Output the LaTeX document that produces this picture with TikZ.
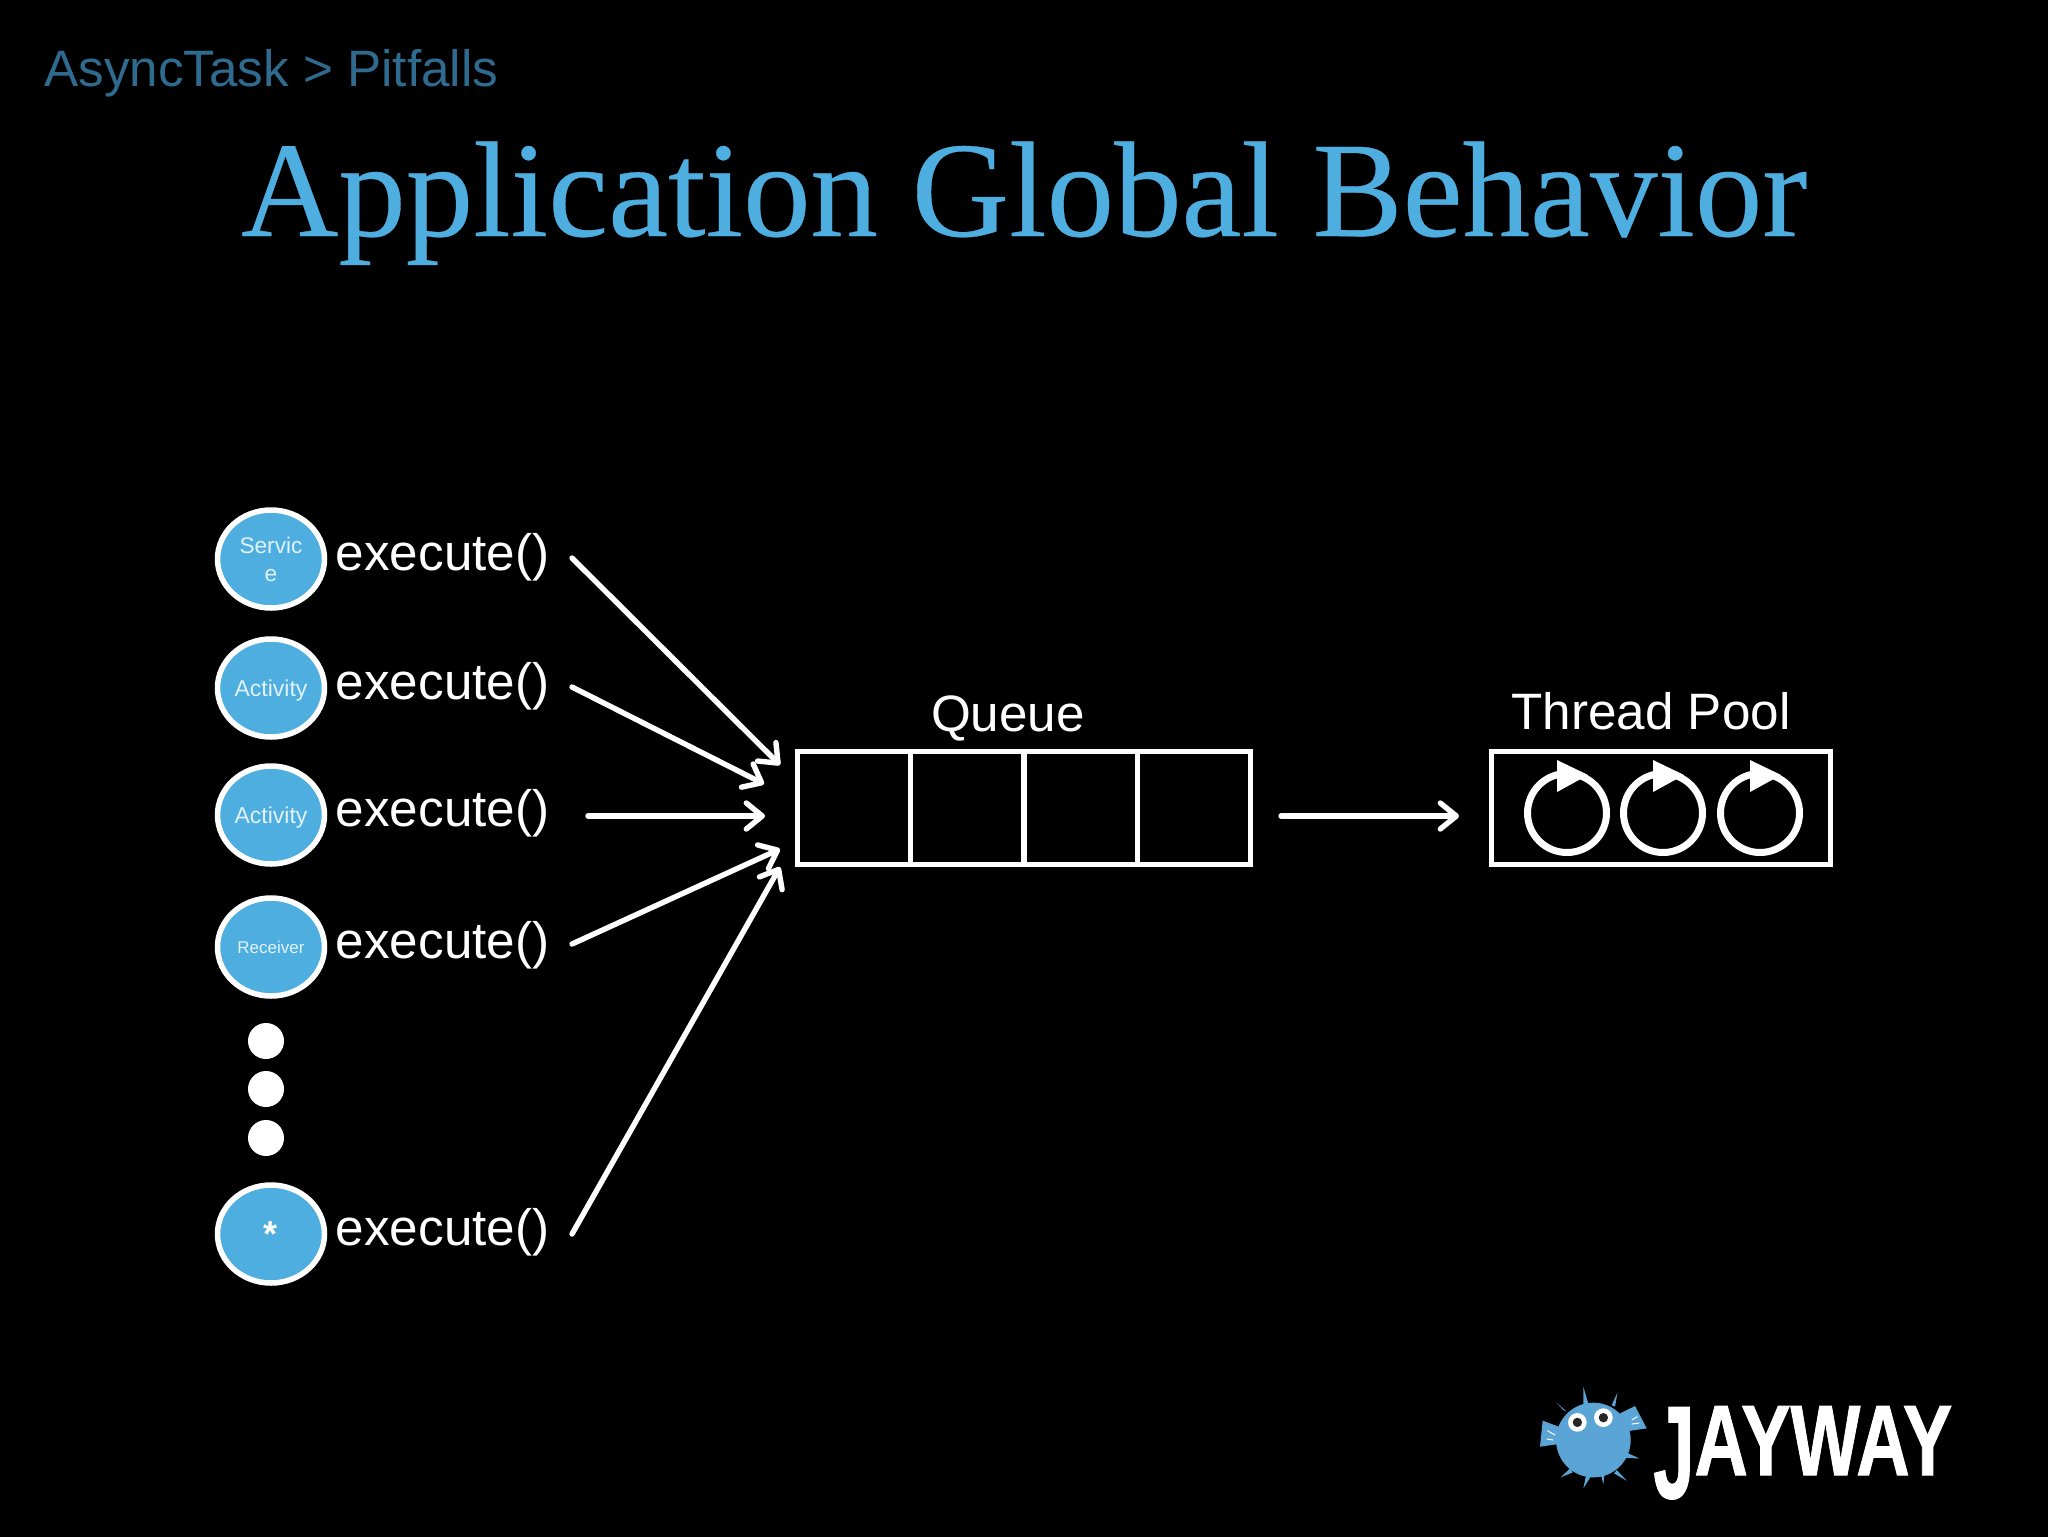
\documentclass[tikz,border=0pt]{standalone}
\usepackage{fontspec}
\usepackage{graphicx}
\setmainfont{Liberation Sans}
\newfontfamily\titlefont[FakeBold=0.25]{Liberation Serif}
\newfontfamily\logofont[FakeBold=1.0]{Liberation Sans Bold}
\usetikzlibrary{arrows.meta,shapes.geometric}

\definecolor{jayblue}{RGB}{79,174,224}
\definecolor{fishblue}{RGB}{91,165,214}
\definecolor{crumbblue}{RGB}{47,106,143}
\definecolor{lblwhite}{RGB}{226,242,250}

\tikzset{
  caller/.style={ellipse,draw=white,fill=jayblue,line width=2.75pt,inner sep=0pt,
    minimum width=53.5pt,minimum height=49pt,text=lblwhite,align=center},
  call/.style={anchor=west,inner sep=0pt,text=white,font=\fontsize{25.6}{30}\selectfont},
  flow/.style={draw=white,line width=2.7pt,line cap=round,-{Straight Barb[length=8pt,width=13pt,round]}},
  cell/.style={draw=white,line width=2.5pt,minimum width=56.6pt,minimum height=56.6pt,inner sep=0pt},
  dot/.style={circle,fill=white,minimum size=18pt,inner sep=0pt},
  caption/.style={text=white,inner sep=0pt,font=\fontsize{25.6}{30}\selectfont},
}

\begin{document}
\begin{tikzpicture}[x=0.5pt,y=-0.5pt]
\useasboundingbox (0,0) rectangle (2048,1536);
\fill[black] (-6,-6) rectangle (2054,1542);

% titres
\node[anchor=base west,inner sep=0pt,text=crumbblue,font=\fontsize{25.6}{30}\selectfont] (crumb) at (44,87) {AsyncTask > Pitfalls};
\node[anchor=base,inner sep=0pt,text=jayblue,xscale=0.992,font=\titlefont\fontsize{68}{80}\selectfont] (title) at (1024,236) {Application Global Behavior};

% appelants et execute()
\foreach \name/\y/\size/\txt in {svc/559/11.3/{Servic\\e},act1/688/11.5/{\rule{0pt}{11.3pt}Activity},act2/815/11.5/{\rule{0pt}{11.3pt}Activity},recv/947/8.5/Receiver,any/1234/18/{\color{white}\bfseries *}} {
  \node[caller,font=\fontsize{\size}{14}\selectfont] (\name) at (271,\y) {\txt};
  \node[call] (exec\name) at (335.5,\y-1.5) {execute()};
}

% points de suspension
\foreach \i/\y in {1/1041,2/1089,3/1138} {
  \node[dot] (dot\i) at (266,\y) {};
}

% file
\foreach \i/\x in {1/853.75,2/967.25,3/1080.75,4/1194.25} {
  \node[cell] (cell\i) at (\x,808) {};
}
\node[caption] (queuelbl) at (1008,718.5) {Queue};

% thread pool
\node[cell,minimum width=169.5pt,minimum height=56.5pt] (pool) at (1660.5,808) {};
\node[caption] (poollbl) at (1651,711) {Thread Pool};
\foreach \x in {1567,1663,1760} {
  \draw[white,line width=3.5pt] (\x,813) circle (39.5);
  \fill[white] (\x-10,760) -- (\x+21,775) -- (\x-10,792) -- cycle;
}

% extremites libres
\coordinate (src1) at (572,558);
\coordinate (src2) at (572,687);
\coordinate (src3) at (588,816);
\coordinate (src4) at (572,944);
\coordinate (src5) at (572,1234);
\coordinate (dst1) at (780,765);
\coordinate (dst2) at (764,784);
\coordinate (dst3) at (765,816);
\coordinate (dst4) at (780,849);
\coordinate (dst5) at (780,867);
\coordinate (qout) at (1281,816);
\coordinate (pin) at (1459,816);

% fleches
\foreach \i in {1,...,5} {
  \draw[flow] (src\i) -- (dst\i);
}
\draw[flow] (qout) -- (pin);

% logo
\begin{scope}[shift={(1500,1360)},x=0.1667pt,y=-0.1667pt]
  \fill[fishblue] (280,240) circle (112);
  \fill[fishblue] (128,182) -- (190,205) -- (190,250) -- (120,260) -- cycle;
  \fill[fishblue] (405,138) -- (440,205) -- (370,215) -- (360,160) -- cycle;
  \foreach \tx/\ty/\ax/\ay/\bx/\by in {250/80/250/135/266/135,352/98/335/135/345/140,170/128/190/150/200/155,418/295/380/278/378/294,380/362/350/330/342/340,310/372/303/345/313/345,250/385/258/345/272/350,182/352/210/325/218/337} {
    \fill[fishblue] (\tx,\ty) -- (\ax,\ay) -- (\bx,\by) -- cycle;
  }
  % rayons des nageoires
  \draw[white,line width=0.5pt] (142,212) -- (165,225) (140,237) -- (160,240) (395,180) -- (412,170) (395,192) -- (418,189);
  \fill[white] (232,187) circle (28);
  \fill[white] (310,173) circle (28);
  \fill[black!85] (232,187) circle (14);
  \fill[black!85] (310,173) circle (14);
\end{scope}
\node[anchor=base west,inner sep=0pt,text=white,xscale=0.74,font=\logofont\fontsize{50}{60}\selectfont] (logo) at (1653,1475) {\raisebox{-11.5pt}{\scalebox{1}[1.32]{J}}AYWAY};
\end{tikzpicture}
\end{document}
